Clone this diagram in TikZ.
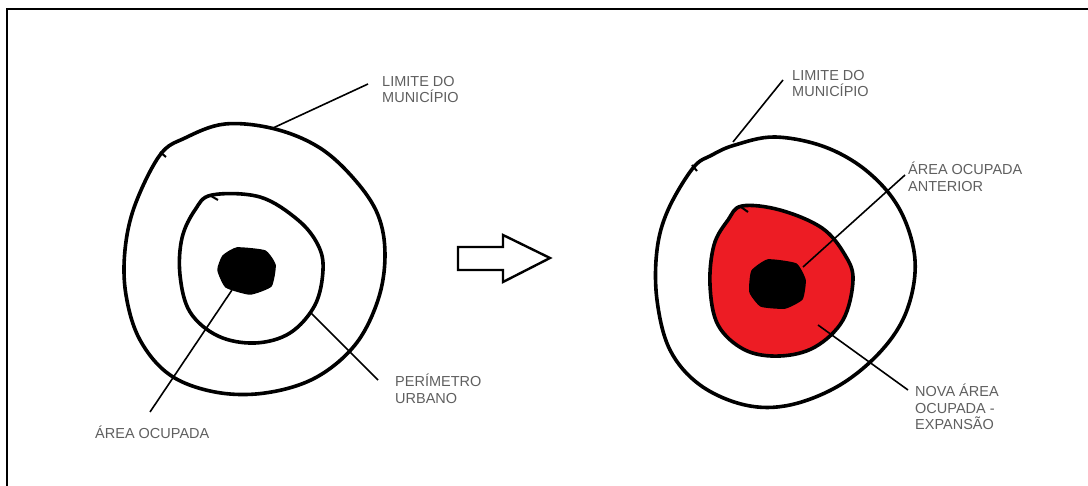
\documentclass[tikz,border=0pt]{standalone}
\usepackage{fontspec}
\newfontfamily\lblfont{Liberation Sans}
\definecolor{LabelGray}{RGB}{95,95,95}
\definecolor{ZoneRed}{RGB}{237,28,36}
\usetikzlibrary{positioning, arrows.meta}

\begin{document}
\begin{tikzpicture}[x=1pt,y=-1pt,
    ring/.style={line width=3.6pt, line join=round},
    blob/.style={fill=black, draw=black, line width=1.5pt, line join=round},
    leader/.style={line width=1.6pt},
    lbl/.style={anchor=north west, inner sep=0pt, align=left, text=LabelGray,
      font=\lblfont\fontsize{14.5pt}{16.5pt}\selectfont}]
          \useasboundingbox (0,0) rectangle (1088,486);
          \draw[line width=2.6pt] (1092,9) -- (7,9) -- (7,490);

          \begin{scope}
            \draw[ring] plot[smooth cycle, tension=0.6] coordinates {
              (225,124) (275,129) (320,148) (355,180) (378,215) (385,255)
              (378,300) (355,345) (315,378) (265,393) (215,392) (170,375)
              (140,340) (126,295) (125,250) (135,205) (160,155) (185,138)};
            \draw[ring] plot[smooth cycle, tension=0.6] coordinates {
              (212,195) (260,197) (298,220) (318,245) (323,270) (315,305)
              (290,333) (255,343) (218,336) (190,312) (180,275) (182,238) (195,210)};
            \draw[line width=2pt] (160,152) -- (166,157);
            \draw[line width=2pt] (211,196) -- (218,200);
            \draw[blob] plot[smooth cycle, tension=0.3] coordinates {
              (237,248) (265,251) (275,265) (271,286) (250,294) (226,287) (218,270) (223,256)};
            \coordinate (limA) at (273,128);
            \coordinate (limB) at (368,84);
            \coordinate (perA) at (310,312);
            \coordinate (perB) at (378,380);
            \coordinate (occA) at (232,290);
            \coordinate (occB) at (150,412);
            \node[lbl] (limL) at (382,76) {LIMITE DO\\MUNICÍPIO};
            \node[lbl] (perL) at (395,374) {PERÍMETRO\\URBANO};
            \node[lbl] (occL) at (95,426) {ÁREA OCUPADA};
            \draw[leader] (limA) -- (limB);
            \draw[leader] (perA) -- (perB);
            \draw[leader] (occA) -- (occB);
          \end{scope}

          \draw[line width=2.4pt, line join=miter]
            (458,247) -- (503,247) -- (503,235) -- (550,258) -- (503,282) -- (503,270) -- (458,270) -- cycle;

          \begin{scope}
            \draw[ring] plot[smooth cycle, tension=0.6] coordinates {
              (735,145) (775,137) (825,147) (868,172) (900,210) (915,260)
              (907,310) (882,350) (840,385) (790,405) (745,405) (700,385)
              (670,350) (657,300) (657,250) (668,210) (693,168) (712,155)};
            \draw[ring, fill=ZoneRed] plot[smooth cycle, tension=0.6] coordinates {
              (742,206) (780,210) (822,228) (845,255) (853,280) (843,320)
              (815,347) (780,356) (745,350) (718,325) (710,285) (714,245) (728,220)};
            \draw[line width=2pt] (692,165) -- (697,171);
            \draw[line width=2pt] (741,207) -- (748,212);
            \draw[blob] plot[smooth cycle, tension=0.3] coordinates {
              (768,260) (796,264) (805,280) (802,299) (785,308) (761,306) (750,292) (752,271)};
            \coordinate (lim2A) at (733,142);
            \coordinate (lim2B) at (783,80);
            \coordinate (antA) at (803,267);
            \coordinate (antB) at (905,175);
            \coordinate (novA) at (818,325);
            \coordinate (novB) at (908,390);
            \node[lbl] (lim2L) at (792,70) {LIMITE DO\\MUNICÍPIO};
            \node[lbl] (antL) at (908,162) {ÁREA OCUPADA\\ANTERIOR};
            \node[lbl] (novL) at (915,384) {NOVA ÁREA\\OCUPADA -\\EXPANSÃO};
            \draw[leader] (lim2A) -- (lim2B);
            \draw[leader] (antA) -- (antB);
            \draw[leader] (novA) -- (novB);
          \end{scope}
        \end{tikzpicture}
\end{document}
